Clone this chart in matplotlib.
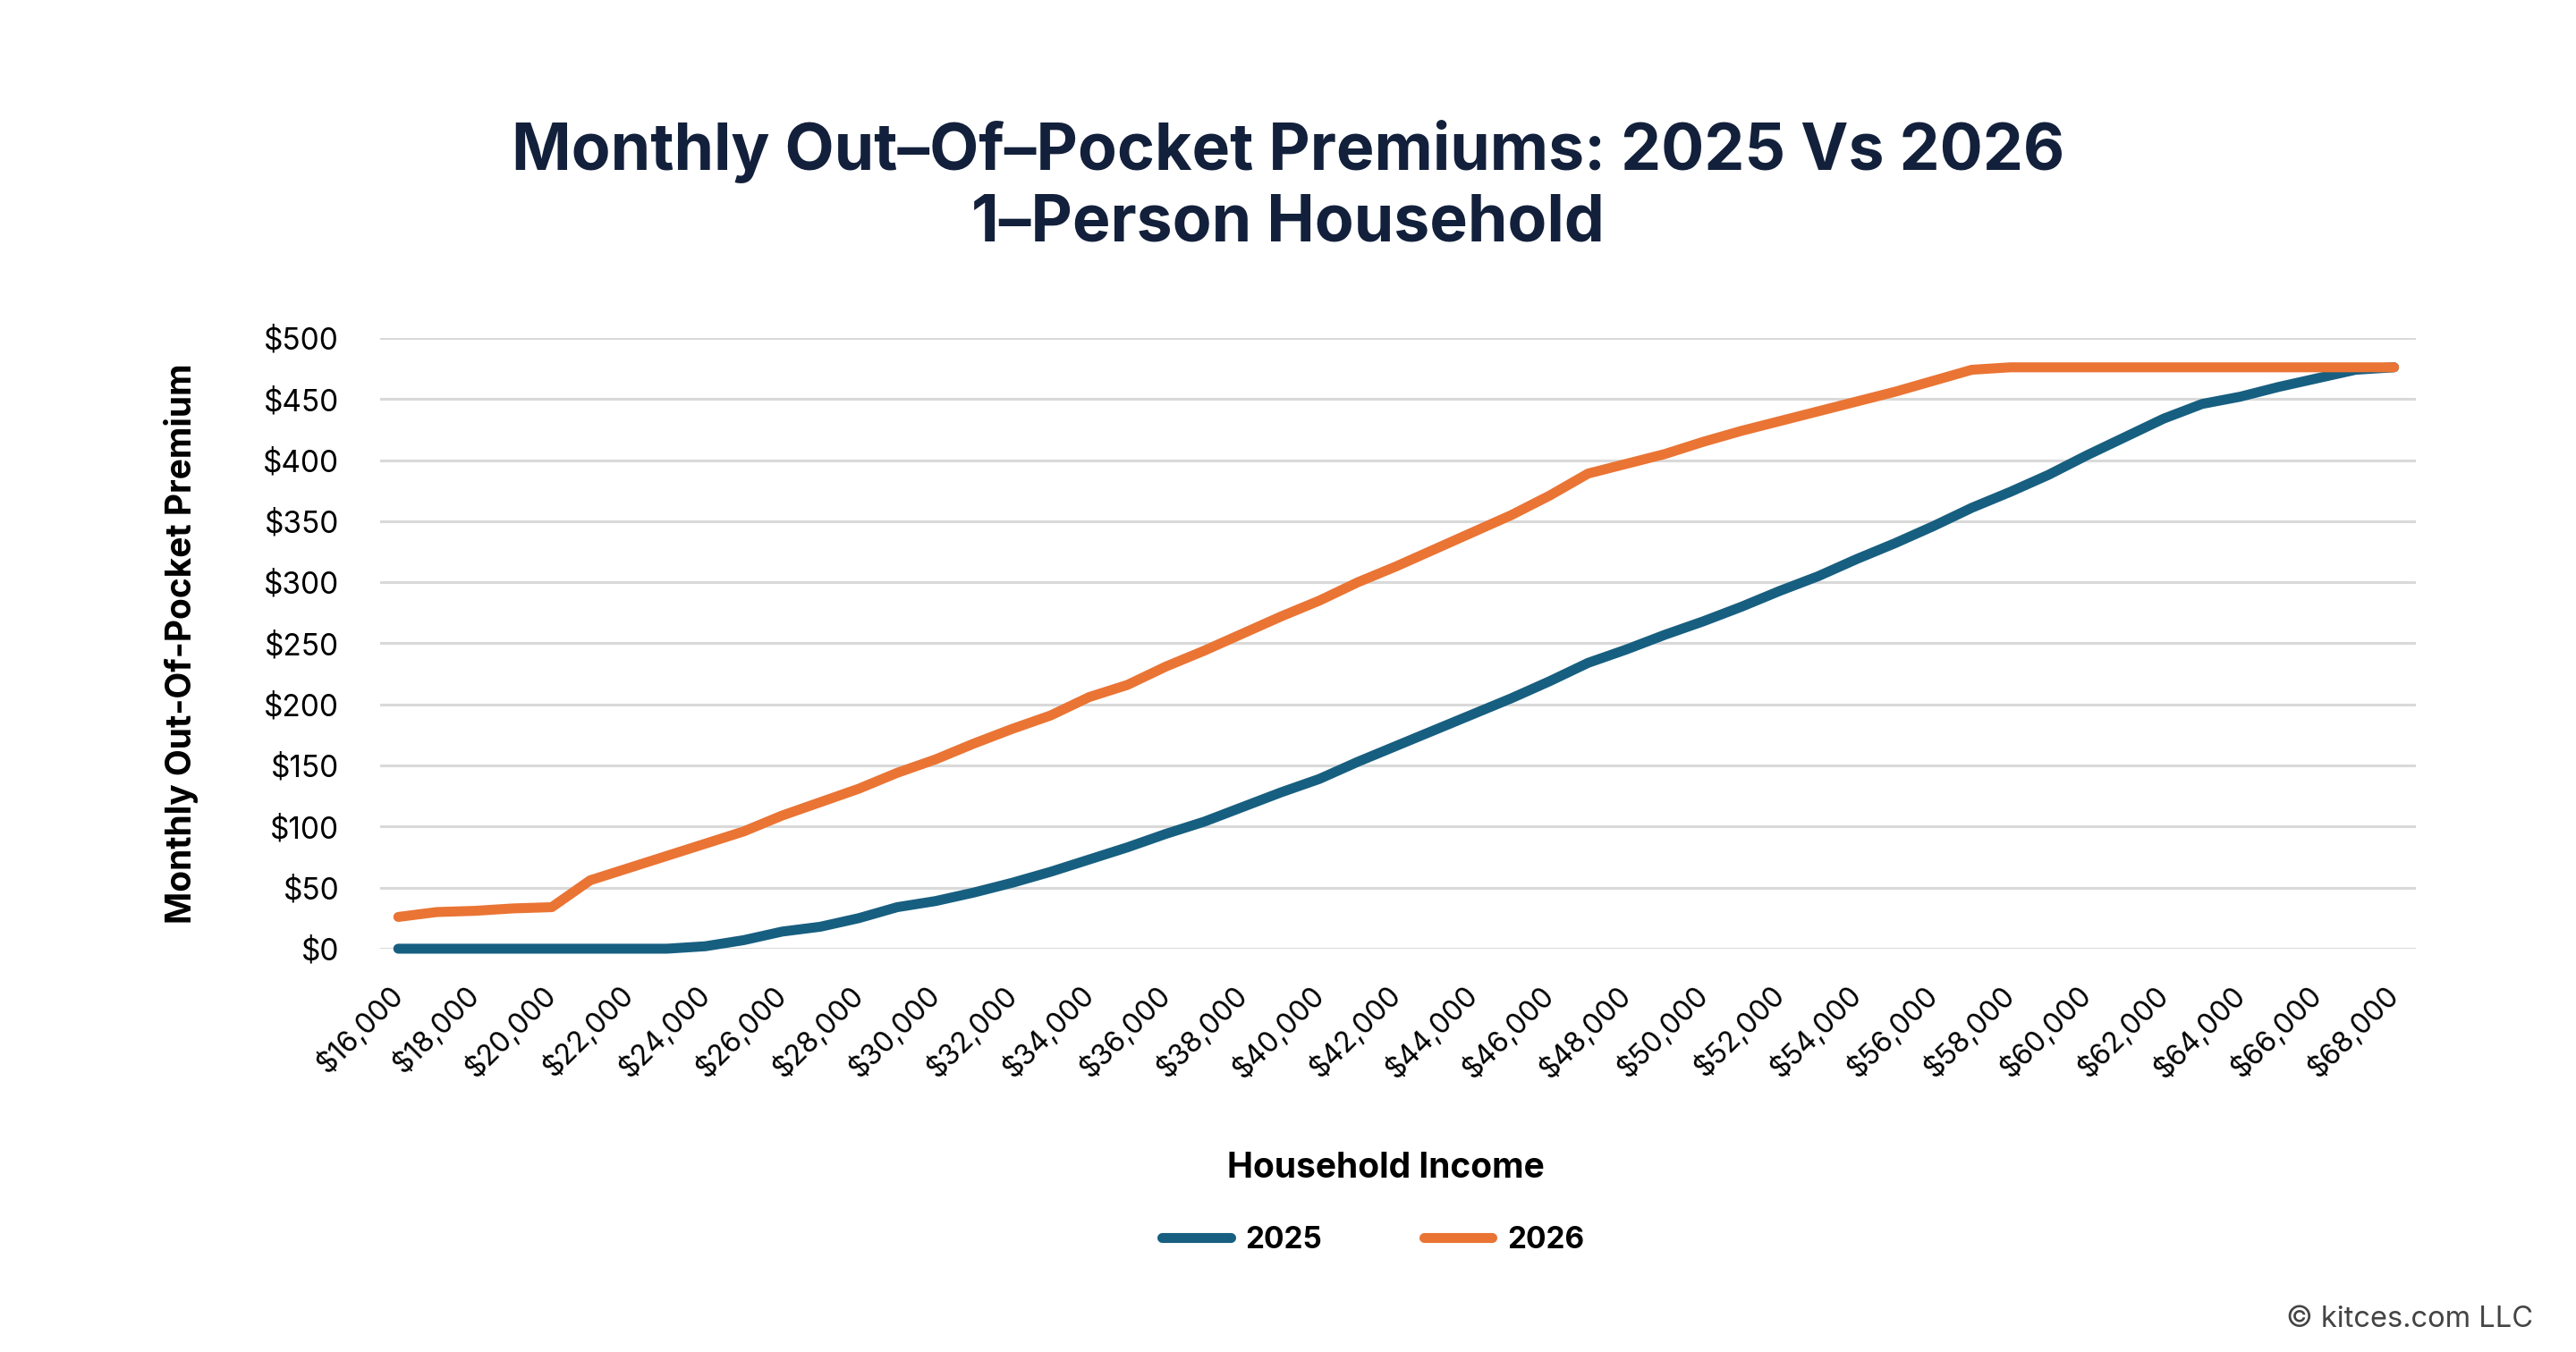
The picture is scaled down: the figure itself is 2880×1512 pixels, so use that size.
import numpy as np
import matplotlib
matplotlib.use("Agg")
import matplotlib.pyplot as plt

# household income in $1000 steps, premiums
income = list(range(16000, 69000, 1000))
prem_2025 = [0, 0, 0, 0, 0, 0, 0, 0, 2, 7,
             14, 18, 25, 34, 39, 46, 54, 63, 73, 83,
             94, 104, 116, 128, 139, 153, 166, 179, 192, 205,
             219, 234, 245, 257, 268, 280, 293, 305, 319, 332,
             346, 361, 374, 388, 404, 419, 434, 446, 452, 460,
             467, 474, 476]
prem_2026 = [26, 30, 31, 33, 34, 56, 66, 76, 86, 96,
             109, 120, 131, 144, 155, 168, 180, 191, 206, 216,
             231, 244, 258, 272, 285, 300, 313, 327, 341, 355,
             371, 389, 397, 405, 415, 424, 432, 440, 448, 456,
             465, 474, 476, 476, 476, 476, 476, 476, 476, 476,
             476, 476, 476]
y_ticks = [0, 50, 100, 150, 200, 250, 300, 350, 400, 450, 500]

BLUE = "#175f80"
ORANGE = "#ea7434"
NAVY = "#13203b"
FONT = ["Inter", "DejaVu Sans"]

plt.rcParams["font.family"] = FONT

fig = plt.figure(figsize=(28.8, 15.12), dpi=100)
ax = fig.add_axes([0.1476, 0.2983, 0.938 - 0.1476, 0.75 - 0.2983])

x = np.arange(len(income))
ax.plot(x, prem_2025, color=BLUE, lw=8, solid_capstyle="round",
        solid_joinstyle="round", label="2025", clip_on=False, zorder=3)
ax.plot(x, prem_2026, color=ORANGE, lw=8, solid_capstyle="round",
        solid_joinstyle="round", label="2026", clip_on=False, zorder=4)

ax.set_xlim(-0.47, len(income) - 1 + 0.58)
ax.set_ylim(0, 500)
ax.set_yticks(y_ticks)
ax.set_yticklabels([f"${v}" for v in y_ticks], fontsize=24)
ax.set_xticks(x[::2])
ax.set_xticklabels([f"${v:,}" for v in income[::2]], fontsize=23,
                   rotation=45, ha="right", va="center",
                   rotation_mode="anchor")
ax.tick_params(axis="y", length=0, pad=33)
ax.tick_params(axis="x", length=0, pad=34)

ax.grid(axis="y", color="#d9d9d9", lw=2.2)
ax.set_axisbelow(True)
for s in ax.spines.values():
    s.set_visible(False)

ax.set_ylabel("Monthly Out-Of-Pocket Premium", fontsize=28, fontweight="bold")
ax.yaxis.set_label_coords(-0.089, 0.5)

fig.text(0.5, 0.888, "Monthly Out\u2013Of\u2013Pocket Premiums: 2025 Vs 2026",
         ha="center", va="center", fontsize=51.5, fontweight="bold", color=NAVY)
fig.text(0.5, 0.834, "1\u2013Person Household",
         ha="center", va="center", fontsize=51.5, fontweight="bold", color=NAVY)

fig.text(0.538, 0.136, "Household Income", ha="center", va="center",
         fontsize=28, fontweight="bold")

leg = fig.legend(loc="center", bbox_to_anchor=(0.533, 0.083), ncol=2,
                 frameon=False, handlelength=2.3, handletextpad=0.5,
                 columnspacing=3.4, prop={"size": 24, "weight": "bold"})
for h in leg.get_lines():
    h.set_linewidth(8)
    h.set_solid_capstyle("round")

fig.text(0.9835, 0.024, "\u00a9 kitces.com LLC", ha="right", va="center",
         fontsize=23.5, color="#444444")

fig.savefig("out.png", dpi=100, facecolor="white")
